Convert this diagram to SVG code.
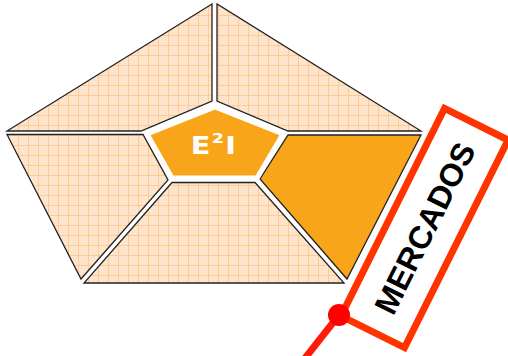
<svg xmlns="http://www.w3.org/2000/svg" width="508" height="356" viewBox="0 0 508 356">
  <defs>
    <pattern id="grid" x="0" y="0" width="10" height="10" patternUnits="userSpaceOnUse">
      <rect width="10" height="10" fill="#FDE4CB"/>
      <path d="M8.5 0V10M0 5.5H10" stroke="#FBCB98" stroke-width="1"/>
    </pattern>
    <style>
      .piece { fill: url(#grid); stroke: #222; stroke-width: 1.3; stroke-linejoin: miter; }
      .hot { fill: #F9A519; stroke: #222; stroke-width: 1.3; }
      .core { fill: #F9A519; stroke: #FFFFFF; stroke-width: 5; stroke-linejoin: miter; }
      .core-text { font-family: "DejaVu Sans", Verdana, sans-serif; font-weight: bold; font-size: 25px; fill: #FFFFFF; letter-spacing: 1px; }
      .tag { fill: #FFFFFF; stroke: #FF3300; stroke-width: 7; }
      .tag-text { font-family: "Liberation Sans", Arial, sans-serif; font-weight: bold; font-size: 32px; fill: #000000; }
      .link { stroke: #FF1A0A; stroke-width: 7; fill: none; }
      .dot { fill: #FF0000; }
    </style>
  </defs>
  <rect width="508" height="356" fill="#FFFFFF"/>

  <g id="segment-top-left">
    <polygon class="piece" points="212,4 7,131 141,131 212,101"/>
  </g>
  <g id="segment-top-right">
    <polygon class="piece" points="217,4 217,101 288,131 421,131"/>
  </g>
  <g id="segment-left">
    <polygon class="piece" points="7,134.5 143,134.5 168,180 81,279"/>
  </g>
  <g id="segment-bottom">
    <polygon class="piece" points="172,182.5 255,182.5 344,283 84,283"/>
  </g>
  <g id="segment-right-mercados">
    <polygon class="hot" points="288,135 421,135 347,279 260,179"/>
  </g>

  <g id="core-e2i">
    <polygon class="core" points="215,107 283,134 257,178 172,178 147,134"/>
    <text class="core-text" transform="translate(214,153.7) scale(1.15,1)" x="0" y="0" text-anchor="middle">E<tspan dy="-3">²</tspan><tspan dy="3">I</tspan></text>
  </g>

  <g id="connectors">
    <line class="link" x1="339" y1="315" x2="302" y2="362"/>
  </g>

  <g id="label-mercados" transform="translate(341,316) rotate(-63.5)">
    <rect class="tag" x="0" y="0" width="232" height="71"/>
    <text class="tag-text" x="116" y="47" text-anchor="middle">MERCADOS</text>
  </g>

  <g id="connector-dot">
    <circle class="dot" cx="339" cy="315" r="11"/>
  </g>
</svg>
